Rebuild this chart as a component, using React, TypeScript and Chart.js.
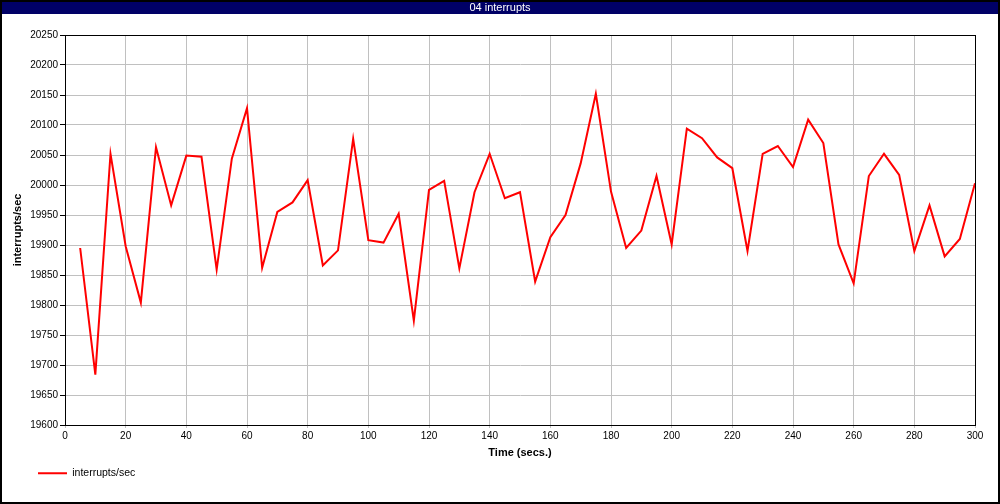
import React, { useEffect, useRef } from "react";
import { Chart, registerables } from "chart.js";

Chart.register(...registerables);

const CHART_TITLE = "04 interrupts";
const SERIES_LABEL = "interrupts/sec";
const X_TITLE = "Time (secs.)";
const Y_TITLE = "interrupts/sec";

const TIMES = [
  5, 10, 15, 20, 25, 30, 35, 40, 45, 50, 55, 60, 65, 70, 75, 80, 85, 90, 95, 100,
  105, 110, 115, 120, 125, 130, 135, 140, 145, 150, 155, 160, 165, 170, 175, 180, 185, 190, 195, 200,
  205, 210, 215, 220, 225, 230, 235, 240, 245, 250, 255, 260, 265, 270, 275, 280, 285, 290, 295, 300,
];

const VALUES = [
  19895, 19684, 20052, 19898, 19804, 20063, 19966, 20049, 20047, 19859,
  20044, 20128, 19862, 19955, 19971, 20008, 19866, 19891, 20077, 19908,
  19904, 19952, 19774, 19992, 20007, 19861, 19988, 20052, 19978, 19988,
  19839, 19913, 19950, 20036, 20152, 19989, 19895, 19924, 20015, 19901,
  20094, 20078, 20046, 20028, 19890, 20052, 20065, 20030, 20109, 20070,
  19901, 19836, 20015, 20052, 20017, 19890, 19966, 19881, 19910, 20003,
];

const X_MIN = 0;
const X_MAX = 300;
const X_STEP = 20;
const Y_MIN = 19600;
const Y_MAX = 20250;
const Y_STEP = 50;

const FONT = "'Liberation Sans', Arial, sans-serif";

const framePlugin = {
  id: "frame",
  afterLayout(chart: any) {
    if (chart.titleBlock) {
      chart.titleBlock.left = 0;
      chart.titleBlock.right = chart.width;
      chart.titleBlock.width = chart.width;
    }
    if (chart.legend) {
      chart.legend.left = 31;
    }
  },
  beforeDraw(chart: any) {
    const { ctx, width, height } = chart;
    ctx.save();
    ctx.fillStyle = "#ffffff";
    ctx.fillRect(0, 0, width, height);
    ctx.fillStyle = "#000066";
    ctx.fillRect(0, 0, width, 14);
    ctx.strokeStyle = "#000000";
    ctx.lineWidth = 2;
    ctx.strokeRect(1, 1, width - 2, height - 2);
    ctx.restore();
  },
  beforeDatasetsDraw(chart: any) {
    const { ctx, chartArea } = chart;
    const l = Math.round(chartArea.left);
    const t = Math.round(chartArea.top);
    const r = Math.round(chartArea.right);
    const b = Math.round(chartArea.bottom);
    ctx.save();
    ctx.strokeStyle = "#000000";
    ctx.lineWidth = 1;
    ctx.strokeRect(l + 0.5, t + 0.5, r - l, b - t);
    ctx.restore();
  },
};

export default function App() {
  const ref = useRef<HTMLCanvasElement | null>(null);

  useEffect(() => {
    if (!ref.current) return;
    const points = TIMES.map((t, i) => ({ x: t, y: VALUES[i] }));
    const chart = new Chart(ref.current, {
      type: "line",
      data: {
        datasets: [
          {
            label: SERIES_LABEL,
            data: points,
            borderColor: "#ff0000",
            backgroundColor: "#ff0000",
            borderWidth: 2,
            pointRadius: 0,
            tension: 0,
            fill: false,
          },
        ],
      },
      options: {
        responsive: false,
        animation: false,
        layout: { padding: { left: 0, right: 25, top: 0, bottom: 15.5 } },
        plugins: {
          tooltip: { enabled: false },
          title: {
            display: true,
            text: CHART_TITLE,
            color: "#ffffff",
            font: { family: FONT, size: 11, weight: "normal" },
            padding: { top: 1, bottom: 20.8 },
          },
          legend: {
            display: true,
            position: "bottom",
            align: "start",
            labels: {
              color: "#000000",
              font: { family: FONT, size: 10.5 },
              boxWidth: 29,
              boxHeight: 2,
              padding: 7,
              generateLabels: (c: any) =>
                (Chart as any).defaults.plugins.legend.labels
                  .generateLabels(c)
                  .map((l: any) => ({ ...l, lineWidth: 0, fillStyle: "#ff0000" })),
            },
          },
        },
        scales: {
          x: {
            type: "linear",
            min: X_MIN,
            max: X_MAX,
            afterFit: (s: any) => {
              s.height = 36;
            },
            ticks: {
              stepSize: X_STEP,
              color: "#000000",
              font: { family: FONT, size: 10 },
              padding: 2,
              maxRotation: 0,
              callback: (v: any) => String(v),
            },
            grid: {
              color: "#c0c0c0",
              tickColor: "#c0c0c0",
              tickLength: 3,
              drawTicks: true,
            },
            border: { color: "#000000" },
            title: {
              display: true,
              text: X_TITLE,
              color: "#000000",
              font: { family: FONT, size: 11, weight: "bold" },
              padding: { top: 0, bottom: 1 },
            },
          },
          y: {
            type: "linear",
            min: Y_MIN,
            max: Y_MAX,
            afterFit: (s: any) => {
              s.width = 65;
            },
            ticks: {
              stepSize: Y_STEP,
              color: "#000000",
              font: { family: FONT, size: 10 },
              padding: 2,
              callback: (v: any) => String(v),
            },
            grid: {
              color: "#c0c0c0",
              tickColor: "#000000",
              tickLength: 5,
            },
            border: { color: "#000000" },
            title: {
              display: true,
              text: Y_TITLE,
              color: "#000000",
              font: { family: FONT, size: 11, weight: "bold" },
              padding: { top: 11, bottom: 0 },
            },
          },
        },
      },
      plugins: [framePlugin],
    } as any);
    return () => chart.destroy();
  }, []);

  return (
    <div style={{ position: "fixed", left: 0, top: 0, width: 1000, height: 504, background: "#fff" }}>
      <canvas ref={ref} width={1000} height={504} style={{ display: "block", width: 1000, height: 504 }} />
    </div>
  );
}
